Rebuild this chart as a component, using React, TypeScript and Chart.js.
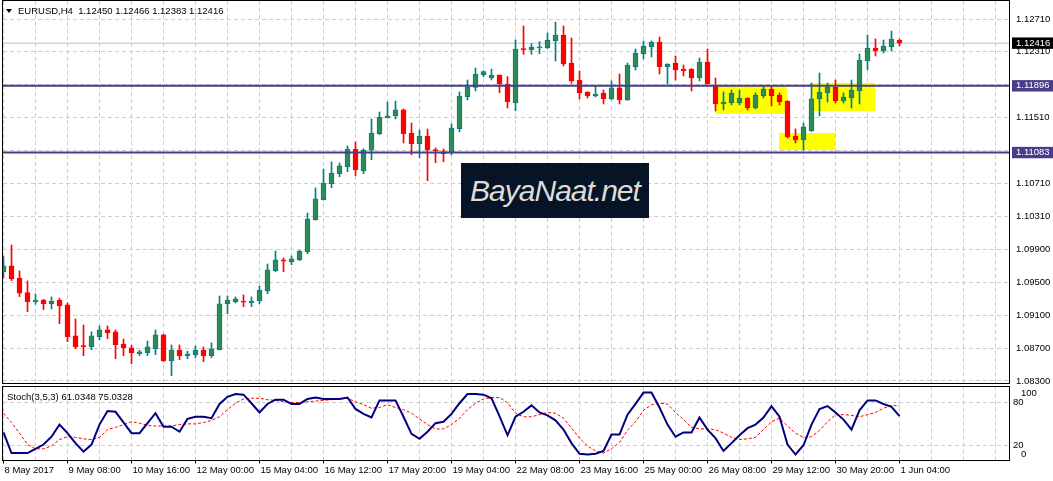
import React, { useEffect, useRef } from 'react';
import { Chart, registerables } from 'chart.js';

Chart.register(...registerables);

// ---------- DATA ----------
const timeLabels = [
  '8 May 2017', '9 May 08:00', '10 May 16:00', '12 May 00:00', '15 May 04:00',
  '16 May 12:00', '17 May 20:00', '19 May 04:00', '22 May 08:00', '23 May 16:00',
  '25 May 00:00', '26 May 08:00', '29 May 12:00', '30 May 20:00', '1 Jun 04:00',
];

const opens = [
  1.09632, 1.09702, 1.09555, 1.09376, 1.09267, 1.09287, 1.09242, 1.09287, 1.09227, 1.08849,
  1.08727, 1.08719, 1.08840, 1.08922, 1.08898, 1.08751, 1.08703, 1.08633, 1.08645, 1.08694,
  1.08861, 1.08548, 1.08678, 1.08609, 1.08621, 1.08678, 1.08609, 1.08682, 1.09242, 1.09263,
  1.09275, 1.09255, 1.09279, 1.09401, 1.09644, 1.09775, 1.09754, 1.09778, 1.09876, 1.10265,
  1.10509, 1.10704, 1.10826, 1.10911, 1.11123, 1.10862, 1.11111, 1.11313, 1.11508, 1.11529,
  1.11602, 1.11321, 1.11191, 1.11285, 1.11118, 1.11094, 1.11082, 1.11374, 1.11764, 1.11878,
  1.12032, 1.11995, 1.12028, 1.11918, 1.11691, 1.12345, 1.12336, 1.12360, 1.12360, 1.12446,
  1.12515, 1.12174, 1.11967, 1.11821, 1.11772, 1.11809, 1.11736, 1.11870, 1.11723, 1.12125,
  1.12287, 1.12373, 1.12430, 1.12129, 1.12174, 1.12101, 1.12101, 1.11991, 1.12186, 1.11894,
  1.11678, 1.11687, 1.11687, 1.11748, 1.11626, 1.11772, 1.11857, 1.11784, 1.11711, 1.11285,
  1.11236, 1.11346, 1.11736, 1.11809, 1.11882, 1.11711, 1.11748, 1.11833, 1.12198, 1.12357,
  1.12320, 1.12369, 1.12450,
];

const highs = [
  1.09815, 1.09957, 1.09641, 1.09519, 1.09360, 1.09296, 1.09324, 1.09308, 1.09251, 1.09056,
  1.08983, 1.08898, 1.08971, 1.08971, 1.08922, 1.08812, 1.08736, 1.08675, 1.08788, 1.08922,
  1.08870, 1.08739, 1.08739, 1.08663, 1.08727, 1.08715, 1.08764, 1.09336, 1.09336, 1.09324,
  1.09348, 1.09324, 1.09458, 1.09726, 1.09884, 1.09799, 1.09823, 1.09890, 1.10347, 1.10652,
  1.10883, 1.10968, 1.10956, 1.11163, 1.11212, 1.11130, 1.11492, 1.11577, 1.11699, 1.11711,
  1.11614, 1.11443, 1.11358, 1.11370, 1.11139, 1.11127, 1.11431, 1.11821, 1.11967, 1.12113,
  1.12080, 1.12101, 1.12030, 1.12007, 1.12454, 1.12625, 1.12409, 1.12434, 1.12539, 1.12673,
  1.12625, 1.12479, 1.12077, 1.11825, 1.11898, 1.11845, 1.11955, 1.12040, 1.12174, 1.12345,
  1.12442, 1.12442, 1.12491, 1.12165, 1.12259, 1.12150, 1.12105, 1.12235, 1.12345, 1.11991,
  1.11821, 1.11845, 1.11845, 1.11752, 1.11809, 1.11894, 1.11894, 1.11809, 1.11714, 1.11370,
  1.11443, 1.11930, 1.12052, 1.11930, 1.11967, 1.11809, 1.11967, 1.12284, 1.12515, 1.12466,
  1.12454, 1.12564, 1.12466,
];

const lows = [
  1.09552, 1.09523, 1.09328, 1.09145, 1.09235, 1.09169, 1.09178, 1.08999, 1.08779, 1.08694,
  1.08609, 1.08682, 1.08804, 1.08816, 1.08572, 1.08609, 1.08512, 1.08609, 1.08609, 1.08621,
  1.08536, 1.08365, 1.08560, 1.08572, 1.08585, 1.08536, 1.08585, 1.08678, 1.09120, 1.09251,
  1.09206, 1.09206, 1.09242, 1.09364, 1.09632, 1.09632, 1.09717, 1.09766, 1.09851, 1.10260,
  1.10505, 1.10655, 1.10789, 1.10850, 1.10801, 1.10826, 1.10996, 1.11301, 1.11501, 1.11492,
  1.11200, 1.11057, 1.11021, 1.10740, 1.10960, 1.10972, 1.11057, 1.11337, 1.11723, 1.11833,
  1.12007, 1.11967, 1.11812, 1.11626, 1.11593, 1.12280, 1.12280, 1.12287, 1.12348, 1.12198,
  1.12138, 1.11927, 1.11736, 1.11748, 1.11760, 1.11675, 1.11723, 1.11675, 1.11718, 1.12089,
  1.12223, 1.12247, 1.12040, 1.11918, 1.11967, 1.12016, 1.11833, 1.11955, 1.11914, 1.11589,
  1.11602, 1.11663, 1.11663, 1.11602, 1.11614, 1.11748, 1.11650, 1.11663, 1.11260, 1.11200,
  1.11114, 1.11340, 1.11529, 1.11699, 1.11687, 1.11687, 1.11626, 1.11675, 1.12089, 1.12259,
  1.12296, 1.12320, 1.12383,
];

const closes = [
  1.09702, 1.09543, 1.09369, 1.09267, 1.09287, 1.09242, 1.09275, 1.09218, 1.08840, 1.08719,
  1.08719, 1.08849, 1.08922, 1.08889, 1.08743, 1.08706, 1.08645, 1.08654, 1.08715, 1.08861,
  1.08548, 1.08678, 1.08609, 1.08630, 1.08678, 1.08609, 1.08691, 1.09239, 1.09287, 1.09300,
  1.09259, 1.09275, 1.09409, 1.09653, 1.09775, 1.09759, 1.09787, 1.09884, 1.10274, 1.10518,
  1.10712, 1.10834, 1.10920, 1.11123, 1.10874, 1.11114, 1.11321, 1.11513, 1.11529, 1.11602,
  1.11313, 1.11191, 1.11285, 1.11118, 1.11102, 1.11069, 1.11382, 1.11772, 1.11882, 1.12040,
  1.12068, 1.12028, 1.11918, 1.11703, 1.12345, 1.12336, 1.12369, 1.12369, 1.12454, 1.12515,
  1.12162, 1.11955, 1.11809, 1.11772, 1.11796, 1.11736, 1.11870, 1.11723, 1.12150, 1.12296,
  1.12381, 1.12430, 1.12129, 1.12162, 1.12089, 1.12077, 1.11991, 1.12186, 1.11918, 1.11675,
  1.11699, 1.11809, 1.11748, 1.11626, 1.11784, 1.11857, 1.11772, 1.11699, 1.11273, 1.11236,
  1.11395, 1.11736, 1.11821, 1.11882, 1.11711, 1.11760, 1.11845, 1.12211, 1.12357, 1.12320,
  1.12381, 1.12466, 1.12416,
];

const stochMain = [
  38, 9, 9, 9, 15, 21, 32, 49, 37, 23,
  11, 21, 49, 68, 67, 52, 37, 37, 51, 65,
  46, 46, 39, 57, 60, 60, 58, 78, 88, 92,
  91, 79, 66, 78, 84, 84, 78, 78, 85, 87,
  85, 85, 85, 87, 71, 64, 59, 83, 83, 83,
  60, 36, 29, 39, 51, 53, 64, 79, 92, 92,
  91, 86, 61, 34, 60, 67, 76, 66, 62, 55,
  42, 23, 8, 7, 8, 12, 35, 35, 63, 78,
  94, 94, 73, 49, 32, 38, 38, 59, 42, 30,
  12, 23, 34, 44, 49, 59, 75, 60, 21, 7,
  20, 49, 71, 75, 66, 56, 42, 69, 83, 83,
  78, 74, 61.0348,
];

const stochSignal = [
  65, 52, 37, 21, 15, 15, 19, 28, 32, 31,
  29, 28, 31, 42, 45, 49, 53, 51, 48, 47,
  47, 47, 49, 50, 50, 52, 55, 60, 70, 79,
  85, 86, 86, 84, 83, 81, 80, 80, 81, 82,
  83, 84, 85, 86, 81, 77, 72, 73, 77, 73,
  70, 65, 57, 49, 43, 43, 49, 58, 70, 79,
  85, 87, 87, 80, 65, 60, 60, 63, 66, 65,
  58, 44, 30, 19, 12, 9, 15, 24, 41, 53,
  69, 77, 79, 78, 66, 56, 45, 43, 43, 42,
  37, 31, 28, 29, 31, 42, 53, 58, 47, 37,
  31, 32, 41, 53, 63, 63, 62, 60, 63, 66,
  72, 76, 75.0328,
];

const priceGrid = [1.12710, 1.12310, 1.11910, 1.11510, 1.11110, 1.10710, 1.10310, 1.09900, 1.09500, 1.09100, 1.08700, 1.08300];
const levelPrices = [1.11896, 1.11083];
const zoneStartBar = [88.98, 96.94, 100.94];
const zoneEndBar = [97.94, 103.94, 108.94];
const zoneHigh = [1.11898, 1.11321, 1.11930];
const zoneLow = [1.11556, 1.11114, 1.11589];
const stochLevels = [80, 20];

// ---------- STYLE ----------
const FONT = "'Liberation Sans', Arial, sans-serif";
const GRID = '#cdcdcd';
const DASH = [4, 3];
const BULL_FILL = '#2E8B57';
const BULL_LINE = '#008080';
const BEAR = '#FF0000';
const LEVEL = '#483D8B';
const X_MIN = -0.0625;
const X_MAX = 125.6875;
const Y_MIN = 1.082756;
const Y_MAX = 1.129293;

const framePlugin = {
  id: 'frame',
  afterDraw(chart: any) {
    const { left, top, right, bottom } = chart.chartArea;
    const L = Math.round(left), T = Math.round(top), R = Math.round(right), B = Math.round(bottom);
    const ctx = chart.ctx;
    ctx.save();
    ctx.strokeStyle = '#000';
    ctx.lineWidth = 1;
    ctx.strokeRect(L - 0.5, T - 0.5, R - L + 1, B - T + 1);
    ctx.restore();
  },
};

// zero-width label-only axes: widen their label clip box after layout
const widenLabelAxes = {
  id: 'widenLabelAxes',
  afterLayout(chart: any) {
    ['y100', 'y0'].forEach((id) => {
      const s = chart.scales[id];
      if (s) s.right = s.left + 44;
    });
  },
};

const gridBarTicks = () => {
  const t: any[] = [];
  for (let v = 0; v <= X_MAX; v += 4) t.push({ value: v });
  return t;
};

export default function App() {
  const mainRef = useRef<HTMLCanvasElement>(null);
  const stochRef = useRef<HTMLCanvasElement>(null);

  useEffect(() => {
    const n = opens.length;
    const idx = Array.from({ length: n }, (_, i) => i);
    const bull = idx.map((i) => closes[i] >= opens[i]);
    const bid = closes[n - 1];
    const specials = [...levelPrices, bid];
    const isSpecial = (v: number) => specials.some((s) => Math.abs(s - v) < 1e-9);
    const hiddenLabel = (v: number) => !isSpecial(v) && levelPrices.some((s) => Math.abs(s - v) < 0.0005);
    const tickVal = (ctx: any) => (ctx && ctx.tick ? ctx.tick.value : NaN);

    const zoneSets = zoneStartBar.map((s, k) => ({
      type: 'line',
      data: [{ x: s, y: zoneHigh[k] }, { x: zoneEndBar[k], y: zoneHigh[k] }],
      fill: { value: zoneLow[k] },
      backgroundColor: '#FFFF00',
      borderColor: '#FFFF00',
      borderWidth: 0,
      pointRadius: 0,
      clip: 0,
      order: 10,
    }));

    const levelSets = levelPrices.map((p) => ({
      type: 'line',
      data: [{ x: X_MIN, y: p }, { x: X_MAX, y: p }],
      borderColor: LEVEL,
      borderWidth: 2,
      pointRadius: 0,
      fill: false,
      clip: 0,
      order: 0,
    }));

    const main = new Chart(mainRef.current as HTMLCanvasElement, {
      type: 'bar',
      data: {
        datasets: [
          ...zoneSets,
          {
            type: 'line',
            data: [{ x: X_MIN, y: bid }, { x: X_MAX, y: bid }],
            borderColor: '#c0c0c0',
            borderWidth: 1,
            pointRadius: 0,
            fill: false,
            clip: 0,
            order: 8,
          },
          {
            type: 'bar',
            data: idx.map((i) => ({ x: i, y: [lows[i], highs[i]] })),
            backgroundColor: idx.map((i) => (bull[i] ? BULL_LINE : BEAR)),
            borderWidth: 0,
            barThickness: 1,
            grouped: false,
            clip: 0,
            order: 3,
          },
          {
            type: 'bar',
            data: idx.map((i) => ({ x: i, y: [opens[i], closes[i]] })),
            backgroundColor: idx.map((i) => (bull[i] ? BULL_FILL : BEAR)),
            borderColor: idx.map((i) => (bull[i] ? BULL_LINE : BEAR)),
            borderWidth: 1,
            borderSkipped: false,
            barThickness: 5,
            minBarLength: 1,
            grouped: false,
            clip: 0,
            order: 2,
          },
          ...levelSets,
        ] as any,
      },
      options: {
        responsive: false,
        animation: false,
        devicePixelRatio: 1,
        layout: { padding: { left: 3, top: 1, right: 0, bottom: 2 } },
        plugins: { legend: { display: false }, tooltip: { enabled: false }, title: { display: false } },
        events: [],
        scales: {
          x: {
            type: 'linear',
            min: X_MIN,
            max: X_MAX,
            offset: false,
            afterBuildTicks: (s: any) => { s.ticks = gridBarTicks(); },
            ticks: { display: false },
            grid: { color: GRID, drawTicks: false, offset: false, lineWidth: 1 },
            border: { display: false, dash: DASH },
            afterFit: (s: any) => { s.height = 0; s.paddingLeft = 0; s.paddingRight = 0; },
          },
          y: {
            type: 'linear',
            position: 'right',
            min: Y_MIN,
            max: Y_MAX,
            afterBuildTicks: (s: any) => {
              s.ticks = [...priceGrid, ...levelPrices, bid].map((v) => ({ value: v }));
            },
            ticks: {
              autoSkip: false,
              padding: 7,
              font: { family: FONT, size: 9.5 },
              color: (ctx: any) => (isSpecial(tickVal(ctx)) ? '#ffffff' : '#000000'),
              callback: (v: any) => (hiddenLabel(Number(v)) ? '' : Number(v).toFixed(5)),
              showLabelBackdrop: (ctx: any) => isSpecial(tickVal(ctx)),
              backdropColor: (ctx: any) => (Math.abs(tickVal(ctx) - bid) < 1e-9 ? '#000000' : LEVEL),
              backdropPadding: { left: 4, right: 6, top: 0, bottom: 0 },
            },
            grid: {
              color: (ctx: any) => (isSpecial(tickVal(ctx)) ? 'rgba(0,0,0,0)' : GRID),
              drawTicks: false,
            },
            border: { display: false, dash: DASH },
            afterFit: (s: any) => { s.width = 44; s.paddingTop = 0; s.paddingBottom = 0; },
          },
        },
      } as any,
      plugins: [framePlugin],
    });

    const stochScaleCommon = {
      type: 'linear',
      position: 'right',
      min: 0,
      max: 102.5,
      grid: { display: false },
      border: { display: false },
    };

    const stoch = new Chart(stochRef.current as HTMLCanvasElement, {
      type: 'line',
      data: {
        datasets: [
          {
            data: stochSignal.map((v, i) => ({ x: i, y: v })),
            borderColor: '#FF0000',
            borderWidth: 1,
            borderDash: [3, 2],
            pointRadius: 0,
            fill: false,
            order: 2,
          },
          {
            data: stochMain.map((v, i) => ({ x: i, y: v })),
            borderColor: '#000080',
            borderWidth: 2,
            pointRadius: 0,
            fill: false,
            order: 1,
          },
        ],
      },
      options: {
        responsive: false,
        animation: false,
        devicePixelRatio: 1,
        layout: { padding: { left: 3, top: 1.5, right: 0, bottom: 0 } },
        plugins: { legend: { display: false }, tooltip: { enabled: false } },
        events: [],
        scales: {
          xg: {
            type: 'linear',
            position: 'bottom',
            min: X_MIN,
            max: X_MAX,
            offset: false,
            weight: -1,
            afterBuildTicks: (s: any) => { s.ticks = gridBarTicks(); },
            ticks: { display: false },
            grid: { color: GRID, drawTicks: false, offset: false },
            border: { display: false, dash: DASH },
            afterFit: (s: any) => { s.height = 0; s.paddingLeft = 0; s.paddingRight = 0; },
          },
          x: {
            type: 'linear',
            position: 'bottom',
            min: X_MIN,
            max: X_MAX,
            offset: false,
            weight: 0,
            afterBuildTicks: (s: any) => { s.ticks = timeLabels.map((_, k) => ({ value: k * 8 })); },
            ticks: {
              autoSkip: false,
              maxRotation: 0,
              minRotation: 0,
              align: 'start',
              labelOffset: 1,
              padding: 1,
              font: { family: FONT, size: 9.5 },
              color: '#000',
              callback: (v: any) => timeLabels[Math.round(Number(v) / 8)] ?? '',
            },
            grid: { drawOnChartArea: false, drawTicks: true, tickLength: 4, tickColor: '#000', offset: false },
            border: { display: false },
            afterFit: (s: any) => { s.height = 21.5; s.paddingLeft = 0; s.paddingRight = 0; },
          },
          y100: {
            ...stochScaleCommon,
            weight: -2,
            afterBuildTicks: (s: any) => { s.ticks = [{ value: 100 }]; },
            ticks: { align: 'start', autoSkip: false, padding: 4, font: { family: FONT, size: 9.5 }, color: '#000' },
            afterFit: (s: any) => { s.width = 0; s.paddingTop = 0; s.paddingBottom = 0; },
          },
          y0: {
            ...stochScaleCommon,
            weight: -1,
            afterBuildTicks: (s: any) => { s.ticks = [{ value: 0 }]; },
            ticks: { align: 'end', autoSkip: false, padding: 4, font: { family: FONT, size: 9.5 }, color: '#000' },
            afterFit: (s: any) => { s.width = 0; s.paddingTop = 0; s.paddingBottom = 0; },
          },
          y: {
            type: 'linear',
            position: 'right',
            min: 0,
            max: 102.5,
            weight: 0,
            afterBuildTicks: (s: any) => { s.ticks = stochLevels.map((v) => ({ value: v })); },
            ticks: { autoSkip: false, padding: 4, font: { family: FONT, size: 9.5 }, color: '#000' },
            grid: { color: GRID, drawTicks: false },
            border: { display: false, dash: DASH },
            afterFit: (s: any) => { s.width = 44; s.paddingTop = 0; s.paddingBottom = 0; },
          },
        },
      } as any,
      plugins: [framePlugin, widenLabelAxes],
    });

    return () => {
      main.destroy();
      stoch.destroy();
    };
  }, []);

  const textStyle: any = { position: 'absolute', fontFamily: FONT, fontSize: '9.5px', lineHeight: '11px', color: '#000', whiteSpace: 'nowrap' };

  return (
    <div style={{ position: 'fixed', left: 0, top: 0, width: 1053, height: 481, background: '#fff', overflow: 'hidden' }}>
      <canvas ref={mainRef} width={1053} height={385} style={{ position: 'absolute', left: 0, top: 0 }} />
      <canvas ref={stochRef} width={1053} height={96} style={{ position: 'absolute', left: 0, top: 385 }} />
      <div style={{ position: 'absolute', left: 6, top: 9, width: 0, height: 0, borderLeft: '3px solid transparent', borderRight: '3px solid transparent', borderTop: '4px solid #000' }} />
      <div style={{ ...textStyle, left: 18, top: 4.5 }}>EURUSD,H4&nbsp;&nbsp;1.12450 1.12466 1.12383 1.12416</div>
      <div style={{ ...textStyle, left: 7, top: 391 }}>Stoch(3,5,3) 61.0348 75.0328</div>
      <div style={{ position: 'absolute', left: 461, top: 163, width: 188, height: 55, background: '#061425', display: 'flex', alignItems: 'center', justifyContent: 'center' }}>
        <span style={{ fontFamily: FONT, fontStyle: 'italic', fontSize: '30px', color: '#dcdcdc', letterSpacing: '-1px' }}>BayaNaat.net</span>
      </div>
    </div>
  );
}
